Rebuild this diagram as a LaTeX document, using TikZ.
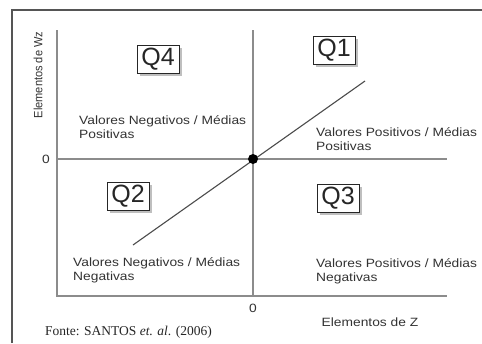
\documentclass[tikz,border=0pt]{standalone}
\usepackage{fontspec}
\setmainfont{Liberation Serif}
\newfontfamily\lbl[FakeStretch=1.15]{Liberation Sans}
\newfontfamily\lblc[FakeStretch=0.92]{Liberation Sans}
\newfontfamily\qfont{Liberation Sans}
\usetikzlibrary{shadows}
\definecolor{txt}{HTML}{333333}
\definecolor{axisgray}{HTML}{8C8C8C}
\definecolor{framegray}{HTML}{555555}
\begin{document}
\begin{tikzpicture}[x=1pt,y=-1pt,
  lab/.style={inner sep=0pt, anchor=west, align=left, text=txt, font=\lbl\fontsize{12}{14}\selectfont},
  small/.style={inner sep=0pt, text=txt, font=\lbl\fontsize{12}{14}\selectfont},
  qbox/.style={draw=black!85, fill=white, line width=0.8pt, minimum width=42pt, minimum height=28pt,
    inner sep=0pt, text=black!85, font=\qfont\fontsize{25}{25}\selectfont,
    general shadow={fill=gray!50, shadow xshift=3pt, shadow yshift=-3pt}},
  axisline/.style={draw=axisgray, line width=1.6pt},
  diag/.style={draw=black!70, line width=1.1pt}]
\useasboundingbox (0,0) rectangle (482,343);
\fill[white] (0,0) rectangle (482,343);
% frame
\coordinate (fa) at (12,343);
\coordinate (fb) at (12,10);
\coordinate (fc) at (482,10);
\draw[framegray, line width=1.2pt] (fa) -- (fb) -- (fc);
% axes
\coordinate (ltop) at (57,30);
\coordinate (lbot) at (57,296);
\coordinate (rbot) at (447,296);
\coordinate (ctop) at (253,30);
\coordinate (cbot) at (253,296);
\coordinate (hl) at (57,159);
\coordinate (hr) at (447,159);
\draw[axisline] (ltop) -- (lbot) -- (rbot);
\draw[axisline] (ctop) -- (cbot);
\draw[axisline] (hl) -- (hr);
% diagonal
\coordinate (d1) at (133,245);
\coordinate (d2) at (365,81);
\draw[diag] (d1) -- (d2);
\node[circle, fill=black, inner sep=0pt, minimum size=10pt] (origin) at (253,159) {};
% boxes
\node[qbox] (q4) at (158,59) {Q4};
\node[qbox] (q1) at (334,50) {Q1};
\node[qbox] (q2) at (128,196) {Q2};
\node[qbox] (q3) at (338,198) {Q3};
% quadrant texts
\node[lab] (t4) at (79,127) {Valores Negativos / Médias\\Positivas};
\node[lab] (t1) at (316,139) {Valores Positivos / Médias\\Positivas};
\node[lab] (t2) at (73,270) {Valores Negativos / Médias\\Negativas};
\node[lab] (t3) at (316,271) {Valores Positivos / Médias\\Negativas};
% axis labels
\node[inner sep=0pt, text=txt, font=\lblc\fontsize{12}{14}\selectfont, rotate=90] (wz) at (38,75) {Elementos de Wz};
\node[small] (zero1) at (46,159) {0};
\node[small] (zero2) at (253,308) {0};
\node[small] (ez) at (370,322) {Elementos de Z};
% source
\node[inner sep=0pt, anchor=west, text=black!85, font=\fontsize{13.5}{15}\selectfont] (src) at (45,332) {Fonte: SANTOS \textit{et. al}. (2006)};
\end{tikzpicture}
\end{document}
